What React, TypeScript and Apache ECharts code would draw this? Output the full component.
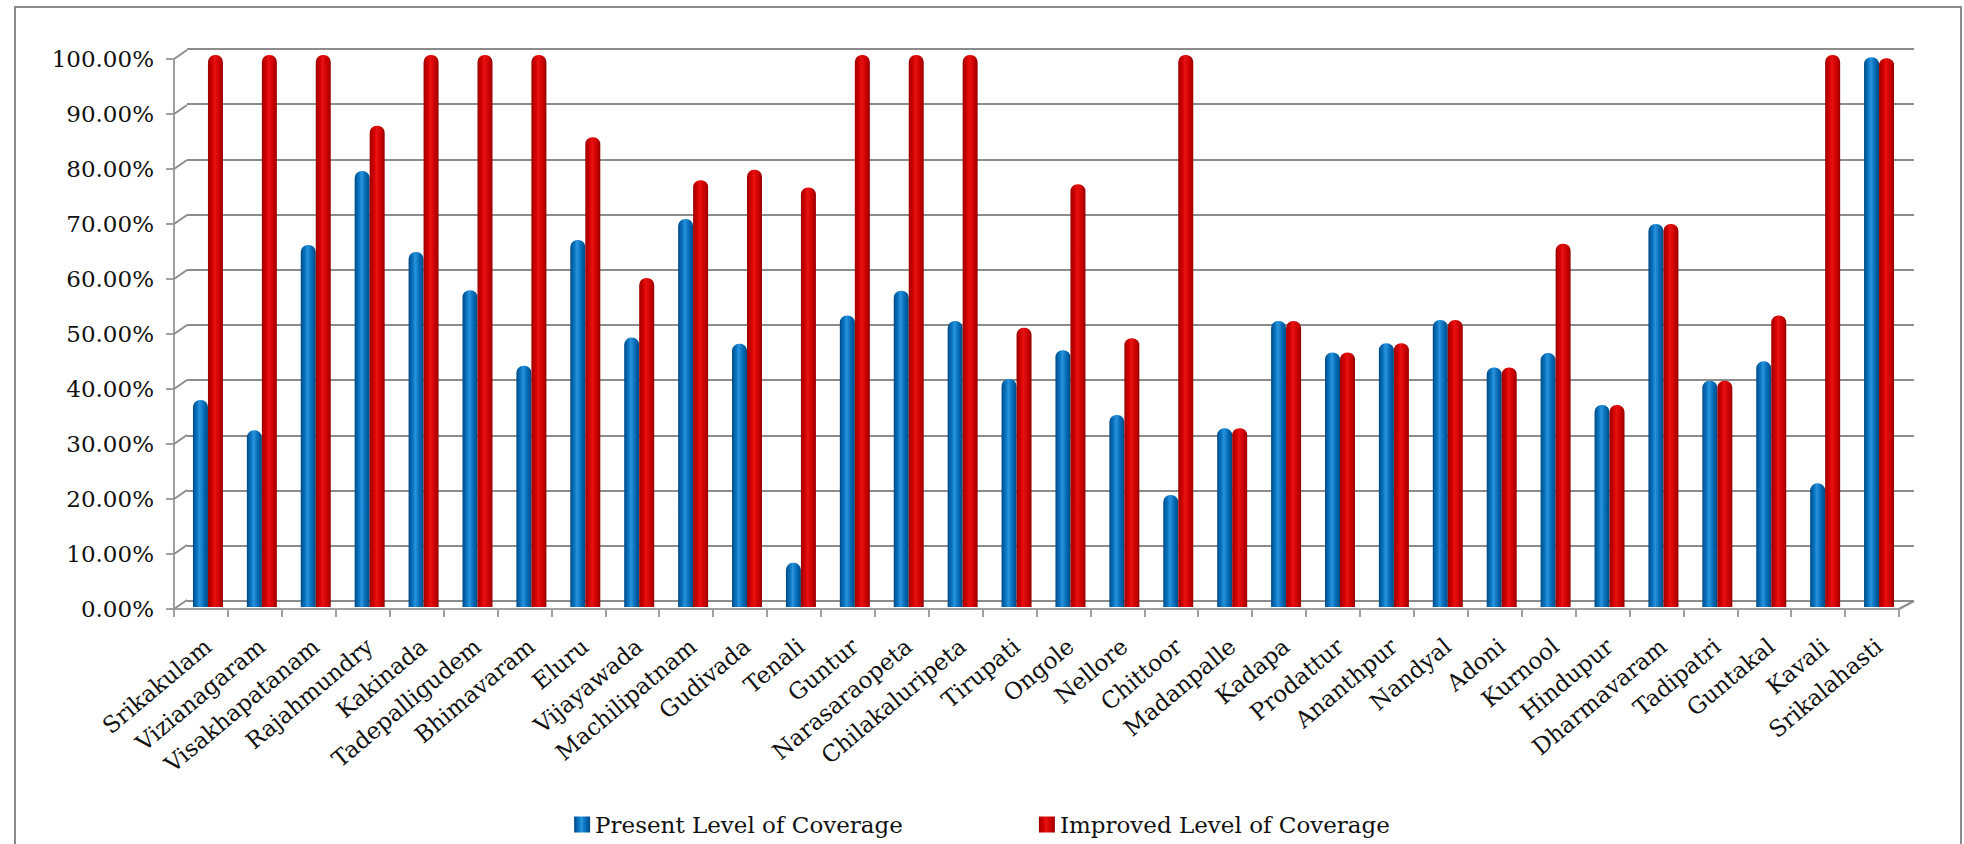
import React, { useEffect, useRef } from "react";
import * as echarts from "echarts";

const categories = [
  "Srikakulam", "Vizianagaram", "Visakhapatanam", "Rajahmundry", "Kakinada",
  "Tadepalligudem", "Bhimavaram", "Eluru", "Vijayawada", "Machilipatnam",
  "Gudivada", "Tenali", "Guntur", "Narasaraopeta", "Chilakaluripeta",
  "Tirupati", "Ongole", "Nellore", "Chittoor", "Madanpalle", "Kadapa",
  "Prodattur", "Ananthpur", "Nandyal", "Adoni", "Kurnool", "Hindupur",
  "Dharmavaram", "Tadipatri", "Guntakal", "Kavali", "Srikalahasti",
];

const presentValues = [
  37.5, 32.0, 65.6, 79.0, 64.3, 57.4, 43.7, 66.5, 48.8, 70.3,
  47.7, 8.0, 52.8, 57.3, 51.8, 41.3, 46.5, 34.8, 20.3, 32.4,
  51.8, 46.1, 47.8, 52.0, 43.4, 46.0, 36.6, 69.4, 41.0, 44.5,
  22.4, 99.6,
];

const improvedValues = [
  100, 100, 100, 87.2, 100, 100, 100, 85.1, 59.6, 77.3,
  79.2, 76.0, 100, 100, 100, 50.6, 76.6, 48.7, 100, 32.4,
  51.8, 46.1, 47.8, 52.0, 43.4, 65.8, 36.6, 69.4, 41.0, 52.8,
  100, 99.4,
];

const yTicks = [0, 10, 20, 30, 40, 50, 60, 70, 80, 90, 100];

const seriesNames = ["Present Level of Coverage", "Improved Level of Coverage"];

const FONT = "DejaVu Serif";
const GRID_COLOR = "#8c8c8c";

export default function App() {
  const ref = useRef<HTMLDivElement>(null);

  useEffect(() => {
    document.body.style.margin = "0";
    if (!ref.current) return;
    const chart = echarts.init(ref.current, null, { renderer: "svg" });

    const blueGrad = new echarts.graphic.LinearGradient(0, 0, 1, 0, [
      { offset: 0, color: "#004a85" },
      { offset: 0.3, color: "#0a78c6" },
      { offset: 0.45, color: "#2a93dc" },
      { offset: 0.75, color: "#0068b4" },
      { offset: 1, color: "#00497f" },
    ]);
    const redGrad = new echarts.graphic.LinearGradient(0, 0, 1, 0, [
      { offset: 0, color: "#9c0000" },
      { offset: 0.3, color: "#d60000" },
      { offset: 0.45, color: "#e81212" },
      { offset: 0.75, color: "#cc0000" },
      { offset: 1, color: "#960000" },
    ]);

    chart.setOption({
      animation: false,
      backgroundColor: "#ffffff",
      textStyle: { fontFamily: FONT, color: "#111" },
      graphic: [
        {
          type: "rect",
          shape: { x: 15, y: 7, width: 1946, height: 900 },
          style: { fill: "none", stroke: "#8a8a8a", lineWidth: 2 },
          silent: true,
        },
      ],
      legend: {
        data: seriesNames,
        left: "center",
        top: 808,
        itemWidth: 16,
        itemHeight: 16,
        itemGap: 136,
        icon: "rect",
        textStyle: { fontFamily: FONT, fontSize: 23, color: "#111" },
      },
      grid: [
        { left: 187, right: 50, top: 49, bottom: 243 },
        { left: 174, right: 65, top: 59, bottom: 235 },
        { left: 181, right: 58, top: 55, bottom: 237 },
      ],
      xAxis: [
        {
          type: "category",
          gridIndex: 0,
          data: categories,
          show: false,
        },
        {
          type: "category",
          gridIndex: 1,
          data: categories,
          axisLine: { show: true, lineStyle: { color: "#a0a0a0", width: 2 } },
          axisTick: {
            show: true,
            interval: 0,
            alignWithLabel: false,
            length: 8,
            lineStyle: { color: "#a0a0a0", width: 2 },
          },
          axisLabel: { show: false },
        },
        {
          type: "category",
          gridIndex: 2,
          data: categories,
          axisLine: { show: false },
          axisTick: { show: false },
          axisLabel: {
            interval: 0,
            rotate: 40,
            margin: 36,
            fontFamily: FONT,
            fontSize: 23,
            color: "#111",
          },
        },
      ],
      yAxis: [
        {
          type: "value",
          gridIndex: 0,
          min: 0,
          max: 100,
          interval: 10,
          axisLine: { show: false },
          axisTick: { show: false },
          axisLabel: { show: false },
          splitLine: { show: true, lineStyle: { color: GRID_COLOR, width: 2 } },
        },
        {
          type: "value",
          gridIndex: 1,
          min: 0,
          max: 100,
          interval: 10,
          axisLine: { show: true, lineStyle: { color: "#a0a0a0", width: 2 } },
          axisTick: { show: true, length: 8, lineStyle: { color: "#a0a0a0", width: 2 } },
          splitLine: { show: false },
          axisLabel: {
            margin: 20,
            fontFamily: FONT,
            fontSize: 23,
            color: "#111",
            formatter: (v: number) => v.toFixed(2) + "%",
          },
        },
        {
          type: "value",
          gridIndex: 2,
          min: 0,
          max: 100,
          show: false,
          splitLine: { show: false },
        },
      ],
      series: [
        {
          name: seriesNames[0],
          type: "bar",
          xAxisIndex: 2,
          yAxisIndex: 2,
          data: presentValues,
          barWidth: 15,
          barGap: "0%",
          itemStyle: { color: blueGrad, borderRadius: [7, 7, 0, 0] },
          z: 3,
        },
        {
          name: seriesNames[1],
          type: "bar",
          xAxisIndex: 2,
          yAxisIndex: 2,
          data: improvedValues,
          barWidth: 15,
          barGap: "0%",
          itemStyle: { color: redGrad, borderRadius: [7, 7, 0, 0] },
          z: 3,
        },
        {
          type: "custom",
          xAxisIndex: 1,
          yAxisIndex: 1,
          silent: true,
          clip: false,
          data: yTicks.map((v) => [0, v]),
          renderItem: (params: any, api: any) => {
            const cs = params.coordSys;
            const y = api.coord([0, api.value(1)])[1];
            const children: any[] = [
              {
                type: "line",
                shape: { x1: cs.x, y1: y, x2: cs.x + 13, y2: y - 9 },
                style: { stroke: GRID_COLOR, lineWidth: 2 },
              },
            ];
            if (api.value(1) === 0) {
              children.push({
                type: "line",
                shape: { x1: cs.x + cs.width, y1: y, x2: cs.x + cs.width + 15, y2: y - 8 },
                style: { stroke: GRID_COLOR, lineWidth: 2 },
              });
            }
            return { type: "group", children };
          },
        },
      ],
    });

    return () => chart.dispose();
  }, []);

  return <div ref={ref} style={{ width: 1964, height: 844 }} />;
}
